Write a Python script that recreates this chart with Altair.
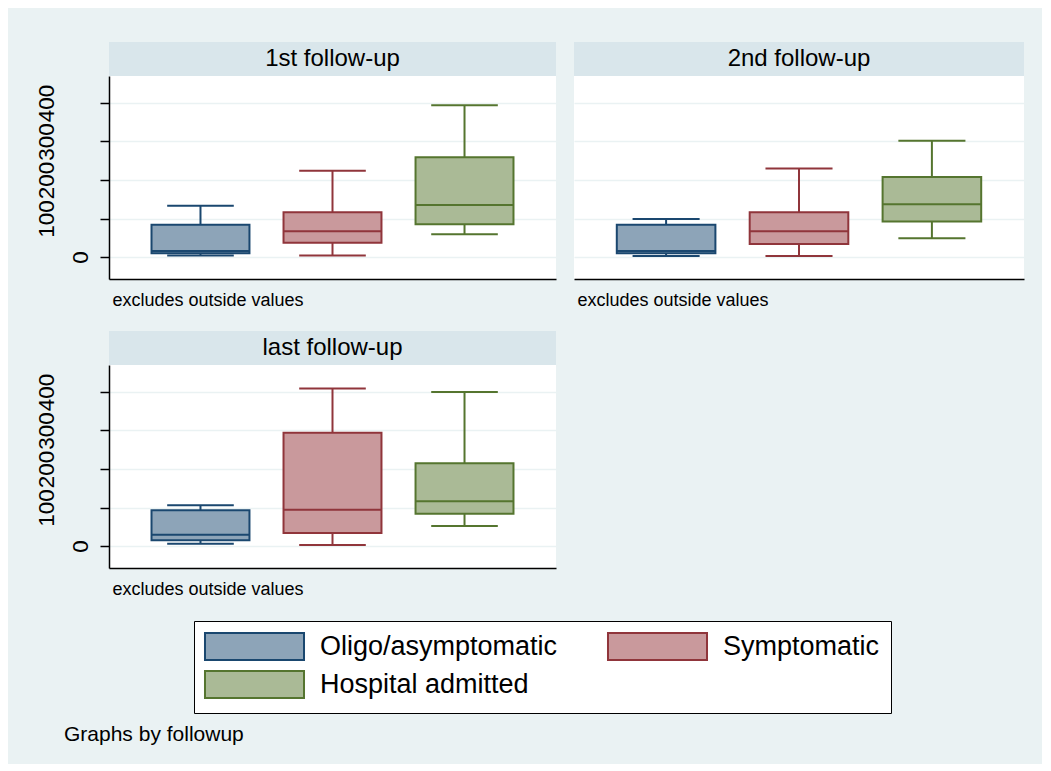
import altair as alt
import pandas as pd

panels = ["1st follow-up", "2nd follow-up", "last follow-up"]
groups = ["Oligo/asymptomatic", "Symptomatic", "Hospital admitted"]
# rows: panel, columns: group
lower_whisker = [[4, 4, 59], [3, 3, 49], [6, 3, 52]]
lower_quartile = [[10, 37, 85], [10, 34, 92], [15, 34, 84]]
medians = [[16, 67, 135], [16, 67, 137], [29, 94, 116]]
upper_quartile = [[84, 116, 259], [84, 116, 208], [93, 294, 215]]
upper_whisker = [[133, 224, 394], [99, 230, 302], [106, 409, 400]]
y_ticks = [0, 100, 200, 300, 400]
y_domain = [-57, 470]
note = "excludes outside values"
footnote = "Graphs by followup"

FONT = "Liberation Sans"
BG = "#EAF2F3"
STRIP = "#D9E6EB"
fills = ["#8DA4B8", "#C9999C", "#AABA96"]
strokes = ["#1A476F", "#90353B", "#55752F"]

rows = []
for i, p in enumerate(panels):
    for j, g in enumerate(groups):
        rows.append(dict(panel=p, group=g, lo=lower_whisker[i][j], q1=lower_quartile[i][j],
                         med=medians[i][j], q3=upper_quartile[i][j], hi=upper_whisker[i][j]))
df = pd.DataFrame(rows)

PLOT_H = 203
STRIP_H = 34
PI = 0.258
PO = 0.322

legend = alt.Legend(
    orient="none", legendX=85, legendY=579, columns=2, direction="horizontal", title=None,
    symbolType="M-3.667,-1H3.667V1H-3.667Z", symbolSize=729, symbolStrokeWidth=2,
    symbolOffset=35, labelOffset=51, labelFont=FONT, labelFontSize=27, labelColor="black",
    labelLimit=400, columnPadding=45, rowPadding=3, padding=11,
    fillColor="white", strokeColor="black",
)
fill = alt.Fill("group:N", sort=groups, scale=alt.Scale(domain=groups, range=fills), legend=legend)
stroke = alt.Stroke("group:N", sort=groups, scale=alt.Scale(domain=groups, range=strokes), legend=legend)


def strip(i, width):
    return alt.Chart(pd.DataFrame({"panel": [panels[i]]})).mark_text(
        font=FONT, fontSize=24, color="black", baseline="middle"
    ).encode(text="panel:N").properties(
        width=width, height=STRIP_H, view=alt.ViewBackground(fill=STRIP, stroke=None)
    )


def plot(i, width, show_y):
    step = width / (3 - PI + 2 * PO)
    bw = step * (1 - PI)
    cap = bw * 0.68
    base = alt.Chart(df).transform_filter(alt.datum.panel == panels[i])
    x = alt.X("group:N", sort=groups, scale=alt.Scale(paddingInner=PI, paddingOuter=PO),
              axis=alt.Axis(title=note, labels=False, ticks=False, domain=True, domainColor="black",
                            domainWidth=1.5, grid=False, titleFont=FONT, titleFontSize=18,
                            titleFontWeight="normal", titleColor="black", titleAnchor="start",
                            titleAlign="left", titleBaseline="alphabetic", titleX=3, titleY=26))
    if show_y:
        # Stata sets the multi-digit rotated labels further from the axis than "0"
        yaxis = alt.Axis(values=y_ticks, title=None, labelAngle=270, labelFont=FONT, labelFontSize=22.5,
                         labelColor="black", labelOverlap=False, labelFlush=False,
                         labelPadding={"condition": {"test": "datum.value == 0", "value": 8}, "value": 42},
                         tickColor="black", tickSize=9, tickWidth=1.5, domainColor="black",
                         domainWidth=1.5, gridColor=BG, gridWidth=1.5)
    else:
        yaxis = alt.Axis(values=y_ticks, title=None, labels=False, ticks=False, domain=False,
                         gridColor=BG, gridWidth=1.5)
    yscale = alt.Scale(domain=y_domain, nice=False, zero=False)

    low = base.mark_rule(strokeWidth=2).encode(
        x=x, y=alt.Y("lo:Q", scale=yscale, axis=yaxis), y2="q1:Q", stroke=stroke)
    up = base.mark_rule(strokeWidth=2).encode(x=x, y="q3:Q", y2="hi:Q", stroke=stroke)
    box = base.mark_bar(strokeWidth=2).encode(x=x, y="q1:Q", y2="q3:Q", fill=fill, stroke=stroke)
    med = base.mark_bar(strokeWidth=2, fillOpacity=0).encode(x=x, y="med:Q", y2="med:Q", stroke=stroke)
    cap_lo = base.mark_bar(strokeWidth=2, fillOpacity=0, width=cap).encode(
        x=x, y="lo:Q", y2="lo:Q", stroke=stroke)
    cap_hi = base.mark_bar(strokeWidth=2, fillOpacity=0, width=cap).encode(
        x=x, y="hi:Q", y2="hi:Q", stroke=stroke)
    return alt.layer(low, up, box, med, cap_lo, cap_hi).properties(
        width=width, height=PLOT_H, view=alt.ViewBackground(fill="white", stroke=None))


def panel(i, width, show_y):
    return alt.vconcat(strip(i, width), plot(i, width, show_y), spacing=0).resolve_scale(
        x="independent", y="independent")


row1 = alt.hconcat(panel(0, 447, True), panel(1, 450, False), spacing=18).resolve_scale(
    x="independent", y="independent")

chart = alt.vconcat(row1, panel(2, 447, True), spacing=22).resolve_scale(
    x="independent", y="independent"
).resolve_legend(fill="shared", stroke="shared").properties(
    title=alt.TitleParams(footnote, orient="bottom", anchor="start", font=FONT, fontSize=21,
                          fontWeight="normal", color="black", baseline="alphabetic", offset=27, dx=29),
    background=BG,
    padding={"left": 27, "top": 34, "right": 18, "bottom": 19},
).configure_view(stroke=None)

chart.save("out.html", embed_options={"renderer": "svg", "actions": False})
